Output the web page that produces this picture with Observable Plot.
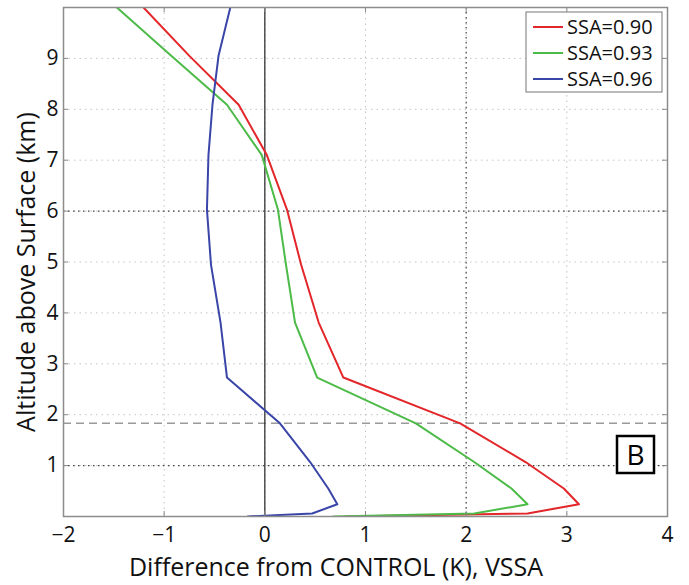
<!DOCTYPE html>
<html>
<head>
<meta charset="utf-8">
<script src="https://cdn.jsdelivr.net/npm/d3@7"></script>
<script src="https://cdn.jsdelivr.net/npm/@observablehq/plot@0.6"></script>
<style>
  html, body { margin: 0; padding: 0; background: #fff; }
  #chart { position: relative; width: 689px; height: 585px; }
</style>
</head>
<body>
<div id="chart"></div>
<script>
// Model levels (km above surface)
const altitude = [0, 0.06, 0.24, 0.55, 1.07, 1.83, 2.73, 3.81, 4.95, 6.03, 7.1, 8.09, 9.05, 10.0];

// Temperature difference from CONTROL (K) at each level, one array per SSA run
const ssa090 = [0.8, 2.61, 3.12, 2.97, 2.59, 1.94, 0.78, 0.535, 0.36, 0.22, 0.02, -0.26, -0.75, -1.205];
const ssa093 = [0.68, 2.08, 2.61, 2.45, 2.08, 1.50, 0.52, 0.30, 0.21, 0.13, -0.03, -0.376, -0.93, -1.47];
const ssa096 = [-0.17, 0.47, 0.72, 0.63, 0.45, 0.15, -0.376, -0.44, -0.535, -0.575, -0.56, -0.52, -0.46, -0.343];

const seriesNames = ["SSA=0.90", "SSA=0.93", "SSA=0.96"];
const seriesColors = ["#e3262a", "#4cbb47", "#3a45a8"];

const xTicks = [-2, -1, 0, 1, 2, 3, 4];
const yTicks = [1, 2, 3, 4, 5, 6, 7, 8, 9];
const refX = [2];          // dotted reference lines
const refY = [1, 6];
const pblTop = [1.83];     // dashed boundary-layer top

const xLabel = "Difference from CONTROL (K), VSSA";
const yLabel = "Altitude above Surface (km)";
const panelTag = "B";

const seriesValues = [ssa090, ssa093, ssa096];
const rows = seriesNames.flatMap((name, i) =>
  altitude.map((alt, j) => ({series: name, alt, diff: seriesValues[i][j]}))
);

const font = "'Open Sans', 'Noto Sans', sans-serif";

const plot = Plot.plot({
  width: 689,
  height: 585,
  marginLeft: 63,
  marginRight: 22,
  marginTop: 7,
  marginBottom: 69,
  style: {fontFamily: font, fontSize: "21px", color: "#111", background: "#fff"},
  x: {domain: [-2, 4]},
  y: {domain: [0, 10]},
  color: {domain: seriesNames, range: seriesColors},
  marks: [
    Plot.gridX(xTicks, {stroke: "#c4c4c4", strokeOpacity: 1, strokeDasharray: "1.5,4"}),
    Plot.gridY(yTicks, {stroke: "#c4c4c4", strokeOpacity: 1, strokeDasharray: "1.5,4"}),
    Plot.ruleX(refX, {stroke: "#444", strokeDasharray: "1.5,3.5", strokeWidth: 1.2}),
    Plot.ruleY(refY, {stroke: "#444", strokeDasharray: "1.5,3.5", strokeWidth: 1.2}),
    Plot.ruleY(pblTop, {stroke: "#9a9a9a", strokeDasharray: "8,5", strokeWidth: 1.5}),
    Plot.ruleX([0], {stroke: "#333", strokeWidth: 1.3}),
    Plot.line(rows, {x: "diff", y: "alt", z: "series", stroke: "series", strokeWidth: 2, clip: true}),
    // inward ticks on all four sides
    Plot.ruleX(xTicks, {y1: 0, y2: 0.1, stroke: "#888"}),
    Plot.ruleX(xTicks, {y1: 9.9, y2: 10, stroke: "#888"}),
    Plot.ruleY(yTicks, {x1: -2, x2: -1.95, stroke: "#888"}),
    Plot.ruleY(yTicks, {x1: 3.95, x2: 4, stroke: "#888"}),
    Plot.frame({stroke: "#8c8c8c", strokeWidth: 1.5}),
    Plot.axisX(xTicks, {tickSize: 0, tickPadding: 11, fontSize: 21, tickFormat: "d", label: null}),
    Plot.axisY(yTicks, {tickSize: 0, tickPadding: 5, fontSize: 21, tickFormat: "d", label: null})
  ]
});

document.getElementById("chart").appendChild(plot);

const svg = d3.select(plot);

// axis titles
svg.append("text")
  .attr("x", 336).attr("y", 575.5)
  .attr("text-anchor", "middle")
  .style("font-family", font).style("font-size", "25px").attr("fill", "#111")
  .text(xLabel);

svg.append("text")
  .attr("transform", "translate(35,272) rotate(-90)")
  .attr("text-anchor", "middle")
  .style("font-family", font).style("font-size", "25px").attr("fill", "#111")
  .text(yLabel);

// legend box in the upper-right corner of the frame
const legend = svg.append("g").attr("transform", "translate(526,12)");
legend.append("rect")
  .attr("width", 136).attr("height", 80)
  .attr("fill", "#fff").attr("stroke", "#777").attr("stroke-width", 1);
seriesNames.forEach((name, i) => {
  const y = 15 + i * 26;
  legend.append("line")
    .attr("x1", 7).attr("x2", 37).attr("y1", y).attr("y2", y)
    .attr("stroke", seriesColors[i]).attr("stroke-width", 2);
  legend.append("text")
    .attr("x", 41).attr("y", y).attr("dy", "0.36em")
    .attr("text-anchor", "start")
    .style("font-family", font).style("font-size", "20px").attr("fill", "#111")
    .text(name);
});

// panel tag
const tag = svg.append("g").attr("transform", "translate(617,436)");
tag.append("rect").attr("width", 37).attr("height", 37)
  .attr("fill", "#fff").attr("stroke", "#000").attr("stroke-width", 2.5);
tag.append("text").attr("x", 18.5).attr("y", 18.5).attr("dy", "0.36em")
  .attr("text-anchor", "middle")
  .style("font-family", font).style("font-size", "28px").attr("fill", "#000")
  .text(panelTag);
</script>
</body>
</html>
